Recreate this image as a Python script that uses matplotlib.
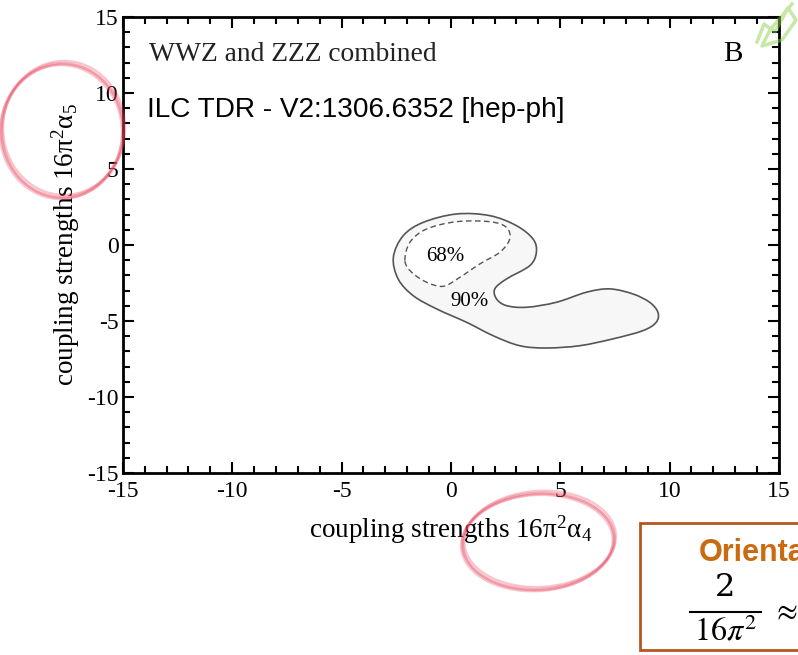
import matplotlib.pyplot as plt
import numpy as np
from matplotlib.path import Path
from matplotlib.patches import PathPatch, Ellipse, Rectangle

plt.rcParams['font.family'] = ['Liberation Serif', 'DejaVu Serif']
plt.rcParams['mathtext.fontset'] = 'custom'
plt.rcParams['mathtext.rm'] = 'Liberation Serif'
plt.rcParams['mathtext.it'] = 'Liberation Serif:italic'
plt.rcParams['axes.unicode_minus'] = False

# 90% contour (alpha4, alpha5)
c90_x = [-2.63, -2.18, -1.26, 0.26, 1.78, 3.00, 3.76, 3.91, 3.61, 2.54, 2.01, 2.09,
         2.54, 3.46, 4.83, 6.20, 7.26, 8.32, 9.09, 9.47, 9.39, 8.78, 7.41, 5.89,
         4.37, 3.15, 1.93, 0.72, -0.65, -1.72, -2.41]
c90_y = [-0.81, 0.61, 1.49, 2.04, 1.93, 1.27, 0.39, -0.48, -1.36, -2.24, -2.89, -3.55,
         -3.99, -4.10, -3.77, -3.11, -2.89, -3.22, -3.77, -4.43, -5.09, -5.64, -6.18, -6.63,
         -6.78, -6.63, -5.97, -5.09, -4.21, -3.34, -2.24]

# 68% contour
c68_x = [-2.10, -1.87, -1.11, 0.26, 1.78, 2.54, 2.69, 2.24, 1.32, 0.41, -0.35, -1.11, -1.79]
c68_y = [-1.03, 0.18, 1.05, 1.53, 1.53, 1.16, 0.39, -0.48, -1.25, -2.13, -2.72, -2.45, -1.80]

ticks = [-15, -10, -5, 0, 5, 10, 15]

# slide decorations, in slide pixels
scribble_x = [757, 764, 775, 788, 796, 782, 762, 770, 792]
scribble_y = [42, 24, 32, 8, 20, 40, 46, 30, 4]


def smooth_closed(xs, ys):
    # closed Catmull-Rom curve through the read points, drawn as cubic Beziers
    pts = np.column_stack([xs, ys])
    n = len(pts)
    verts = [pts[0]]
    codes = [Path.MOVETO]
    for i in range(n):
        p0, p1, p2, p3 = pts[i - 1], pts[i], pts[(i + 1) % n], pts[(i + 2) % n]
        verts += [p1 + (p2 - p0) / 6, p2 - (p3 - p1) / 6, p2]
        codes += [Path.CURVE4] * 3
    return Path(verts, codes)


fig = plt.figure(figsize=(7.98, 6.55), dpi=100)
ax = fig.add_axes([0.154, 0.278, 0.822, 0.696])

ax.add_patch(PathPatch(smooth_closed(c90_x, c90_y), facecolor='#f7f7f7',
                       edgecolor='#555555', lw=1.2))
ax.add_patch(PathPatch(smooth_closed(c68_x, c68_y), facecolor='white',
                       edgecolor='#555555', lw=1.0, ls=(0, (4, 2.5))))
ax.text(-0.27, -0.75, '68%', fontsize=15, ha='center', va='center')
ax.text(0.87, -3.7, '90%', fontsize=15, ha='center', va='center')

ax.set_xlim(-15, 15)
ax.set_ylim(-15, 15)
ax.set_xticks(ticks)
ax.set_yticks(ticks)
ax.set_xticks(range(-15, 16), minor=True)
ax.set_yticks(range(-15, 16), minor=True)
ax.tick_params(which='both', direction='in', top=True, right=True, width=1.5,
               labelsize=17)
ax.tick_params(axis='x', pad=6)
ax.tick_params(axis='y', pad=3)
ax.tick_params(which='major', length=8)
ax.tick_params(which='minor', length=5)
for s in ax.spines.values():
    s.set_linewidth(2)

ax.set_xlabel(r'coupling strengths $\mathrm{16\pi^{2}\alpha_{4}}$', fontsize=19.5, labelpad=8)
ax.set_ylabel(r'coupling strengths $\mathrm{16\pi^{2}\alpha_{5}}$', fontsize=19.5, labelpad=4)

ax.text(0.04, 0.918, 'WWZ and ZZZ combined', transform=ax.transAxes, fontsize=19.8,
        va='center', ha='left', color='#222222')
ax.text(0.93, 0.918, 'B', transform=ax.transAxes, fontsize=21, va='center', ha='center')
ax.text(0.036, 0.797, 'ILC TDR - V2:1306.6352 [hep-ph]', transform=ax.transAxes,
        fontsize=20.2, family='Liberation Sans', va='center', ha='left')


def fx(px):
    return px / 798


def fy(py):
    return 1 - py / 655


# hand-drawn annotation marks on the slide
for dx, dy in [(0, 0), (2, -2), (-1, 2), (1, 1)]:
    fig.add_artist(Ellipse((fx(62 + dx), fy(130 + dy)), 122 / 798, 134 / 655,
                           fill=False, ec='#e8415a', lw=1.8, alpha=0.3))
    fig.add_artist(Ellipse((fx(538 + dx), fy(541 + dy)), 152 / 798, 96 / 655, angle=6,
                           fill=False, ec='#e8415a', lw=1.8, alpha=0.3))

fig.add_artist(plt.Line2D([fx(v) for v in scribble_x], [fy(v) for v in scribble_y],
                          color='#8fd14f', lw=2.5, alpha=0.5))

fig.add_artist(Rectangle((fx(640), fy(650)), 200 / 798, 127 / 655, facecolor='white',
                         edgecolor='#b5561e', lw=2))
fig.text(fx(699), fy(553), 'Orientation', family='Liberation Sans', fontweight='bold',
         color='#cc6a12', fontsize=22, va='center', ha='left')
fig.text(fx(725), fy(588), '2', fontsize=23, va='center', ha='center',
         family='DejaVu Serif')
fig.add_artist(plt.Line2D([fx(690), fx(761)], [fy(612), fy(612)], color='black', lw=1.5))
fig.text(fx(725), fy(632), r'$16\pi^{2}$', fontsize=23, va='center', ha='center',
         math_fontfamily='stix')
fig.text(fx(785), fy(612), r'$\approx$', fontsize=22, va='center', ha='center',
         math_fontfamily='stix')

fig.savefig('out.png', dpi=100)
